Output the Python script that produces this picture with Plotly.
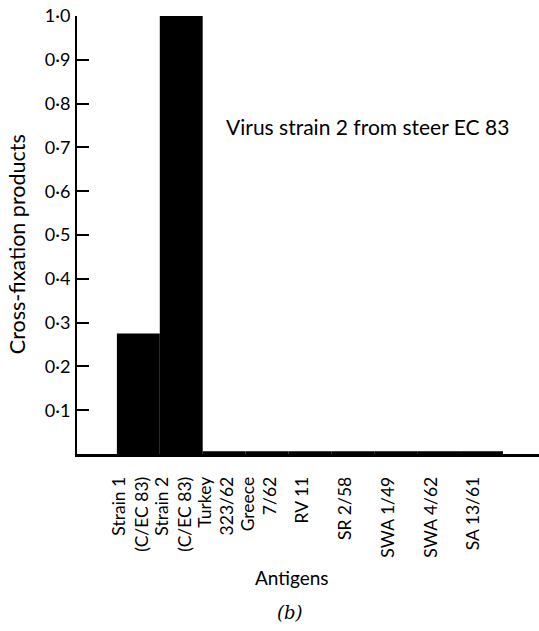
import plotly.graph_objects as go

antigens = ["Strain 1<br>(C/EC 83)", "Strain 2<br>(C/EC 83)", "Turkey<br>323/62", "Greece<br>7/62",
            "RV 11", "SR 2/58", "SWA 1/49", "SWA 4/62", "SA 13/61"]
values = [0.275, 1.0, 0.006, 0.006, 0.006, 0.006, 0.006, 0.006, 0.006]
y_ticks = [0.1, 0.2, 0.3, 0.4, 0.5, 0.6, 0.7, 0.8, 0.9, 1.0]
y_tick_text = ["0·1", "0·2", "0·3", "0·4", "0·5", "0·6", "0·7", "0·8", "0·9", "1·0"]

idx = list(range(len(antigens)))
FONT = "Lato"

fig = go.Figure(go.Bar(x=idx, y=values, width=1.0, marker=dict(color="black", line=dict(width=0))))

fig.update_layout(
    width=539, height=631,
    margin=dict(l=77, r=0, t=16, b=177),
    paper_bgcolor="white", plot_bgcolor="white",
    showlegend=False,
    font=dict(family=FONT, color="black", size=19),
    xaxis=dict(range=[-1.43, 9.34], tickvals=[i - 0.18 for i in idx], ticktext=antigens,
               tickangle=-90, showline=True, linewidth=2.5, linecolor="black",
               showgrid=False, zeroline=False, ticks="outside", ticklen=13,
               tickcolor="rgba(0,0,0,0)", tickfont=dict(size=17.5, family=FONT)),
    yaxis=dict(range=[0, 1.0], tickvals=y_ticks, ticktext=y_tick_text,
               showline=True, linewidth=2, linecolor="black", showgrid=False,
               zeroline=False, ticks="inside", ticklen=12, tickwidth=2, tickcolor="black",
               ticklabelstandoff=1, tickfont=dict(size=18, family=FONT)),
    annotations=[
        dict(text="Cross-fixation products", textangle=-90, xref="paper", yref="paper",
             x=-0.13, y=0.479, xanchor="center", yanchor="middle", showarrow=False,
             font=dict(size=21.5, family=FONT)),
        dict(text="Virus strain 2 from steer EC 83", xref="paper", yref="paper",
             x=0.628, y=0.747, xanchor="center", yanchor="middle", showarrow=False,
             font=dict(size=21, family=FONT)),
        dict(text="Antigens", xref="paper", yref="paper", x=0.465, y=-0.283,
             xanchor="center", yanchor="middle", showarrow=False, font=dict(size=19, family=FONT)),
        dict(text="<i>(b)</i>", xref="paper", yref="paper", x=0.461, y=-0.361,
             xanchor="center", yanchor="middle", showarrow=False,
             font=dict(size=18, family="DejaVu Serif")),
    ],
)

fig.write_html("out.html")
